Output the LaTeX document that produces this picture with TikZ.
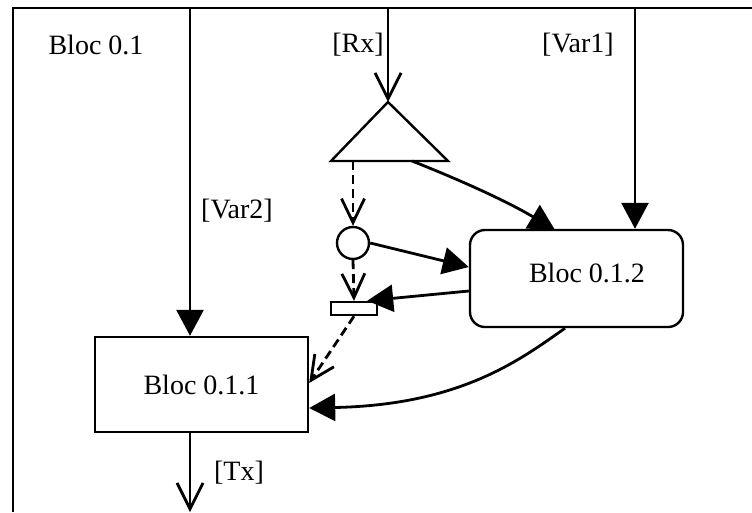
\documentclass[tikz,border=0pt]{standalone}
\usepackage{fontspec}
\setmainfont{Liberation Serif}
\usetikzlibrary{arrows.meta,calc}
\begin{document}
\begin{tikzpicture}[x=1pt,y=-1pt,
  every node/.style={font=\fontsize{28}{32}\selectfont},
  ln/.style={line width=2.8pt},
  farrow/.style={ln,-{Triangle[length=26pt,width=27pt]}},
  oarrow/.style={ln,-{Straight Barb[length=26pt,width=26pt]}},
  darrow/.style={ln,dash pattern=on 9pt off 5pt,-{Straight Barb[length=24pt,width=23pt]}},
  blockbox/.style={draw,line width=2.4pt,minimum width=213pt,minimum height=95pt,inner sep=0pt},
  txt/.style={inner sep=0pt}]
\useasboundingbox (0,0) rectangle (752,512);
% frame
\draw[line width=2.6pt] (13,512) -- (13,8) -- (752,8);
\node[txt] (lbl01) at (96,45) {Bloc 0.1};
% blocks
\node[blockbox] (b011) at (201.5,384.5) {Bloc 0.1.1};
\node[blockbox,minimum height=97pt,rounded corners=15pt] (b012) at (576.5,278.5) {};
\node[txt] (lbl012) at (587,273) {Bloc 0.1.2};
% triangle
\coordinate (tapex) at (388,102);
\coordinate (tleft) at (331,161);
\coordinate (tright) at (448,161);
\draw[line width=2.4pt,line join=miter] (tapex) -- (tleft) -- (tright) -- cycle;
\coordinate (tb1) at (353,161);
\coordinate (tb2) at (412,161);
% circle and small rectangle
\node[draw,line width=2.4pt,circle,minimum size=32pt,inner sep=0pt] (c) at (353,243) {};
\node[draw,line width=2.4pt,minimum width=46pt,minimum height=13pt,inner sep=0pt] (r) at (354,308.5) {};
% inputs
\coordinate (v2top) at (190,8);
\coordinate (rxtop) at (388,8);
\coordinate (v1top) at (635,8);
\coordinate (txend) at (190,512);
\draw[farrow] (v2top) -- (v2top |- b011.north);
\draw[oarrow] (rxtop) -- (tapex);
\draw[farrow] (v1top) -- (v1top |- b012.north);
\draw[oarrow] (b011.south -| txend) -- (txend);
\node[txt] (lv2) at (237,211) {[Var2]};
\node[txt] (lrx) at (358,45) {[Rx]};
\node[txt] (lv1) at (578,45) {[Var1]};
\node[txt] (ltx) at (239,473) {[Tx]};
% dashed
\draw[darrow] (tb1) -- (c.north);
\draw[darrow] (c.south) -- (r.north);
\draw[darrow] (r.south) -- (b011.east |- 0,383);
% solid internal
\draw[farrow] (tb2) .. controls (455,178) and (505,200) .. (555,230);
\draw[farrow] (c.east) -- (b012.west |- 0,267);
\draw[farrow] (b012.west |- 0,291) -- ([xshift=-11pt]r.north east);
\draw[farrow] (b012.south -| 565,0) .. controls (520,360) and (460,405) .. (b011.east |- 0,408);
\end{tikzpicture}
\end{document}
